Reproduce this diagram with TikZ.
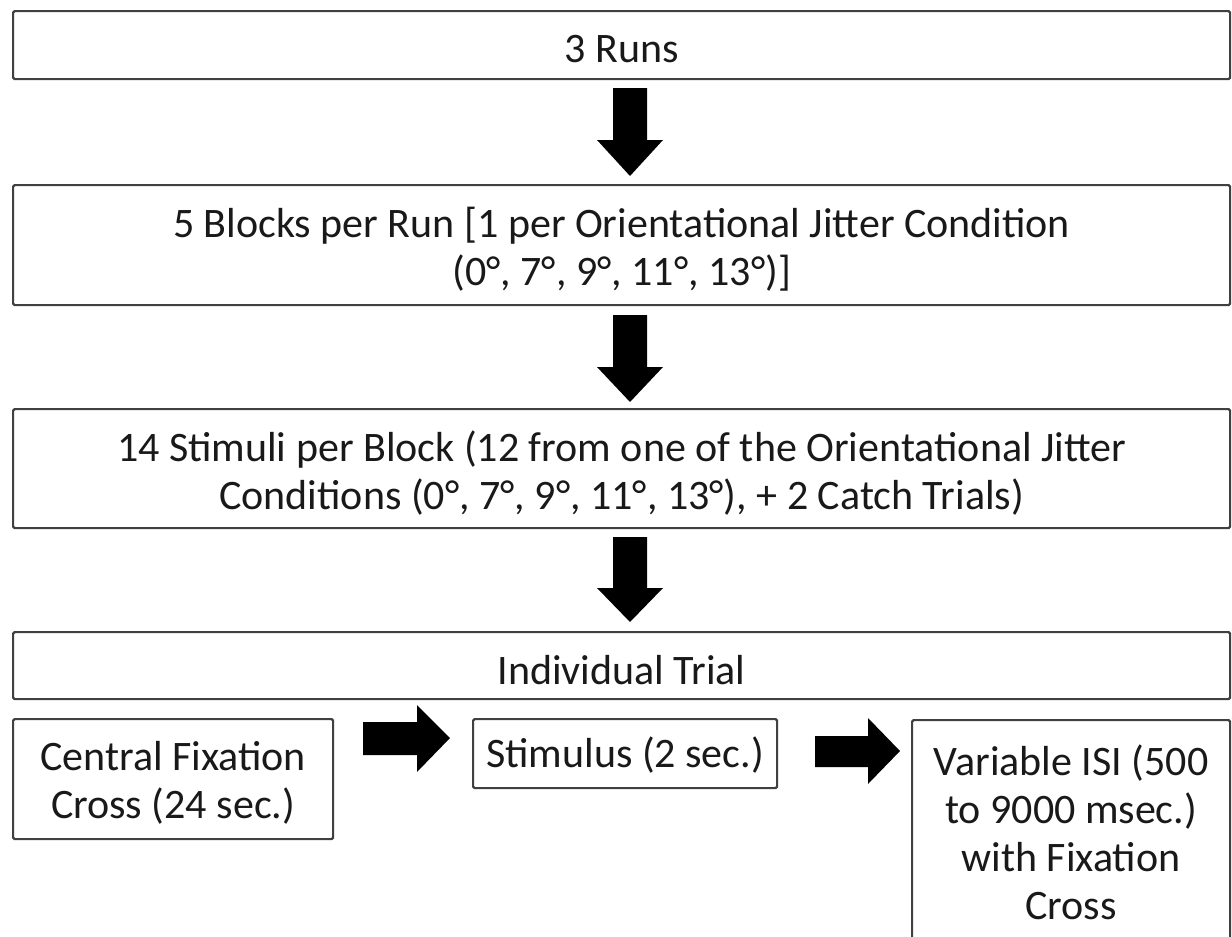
\documentclass[tikz,border=0pt]{standalone}
\usepackage{fontspec}
\setmainfont{Carlito}
\begin{document}
\begin{tikzpicture}[x=1pt,y=-1pt,
  box/.style={draw=black!75, line width=2.2pt, rounded corners=1.5pt, fill=white,
    anchor=north west, inner sep=0pt},
  txt/.style={inner sep=0pt, align=center, text=black!90,
    font=\fontsize{42}{48}\selectfont},
  blockarrow/.style={fill=black, draw=none}]
\useasboundingbox (0,0) rectangle (1232,937);
\clip (0,0) rectangle (1232,937);
\node[box, minimum width=1217pt, minimum height=68pt] (runs) at (12,10) {};
\node[txt] (runsT) at ([yshift=-4pt]runs.center) {3 Runs};
\node[box, minimum width=1217pt, minimum height=120pt] (blocks) at (12,184) {};
\node[txt] (blocksT) at ([yshift=-4pt]blocks.center)
  {5 Blocks per Run [1 per Orientational Jitter Condition\\(0°, 7°, 9°, 11°, 13°)]};
\node[box, minimum width=1217pt, minimum height=119pt] (stimuli) at (12,408) {};
\node[txt] (stimuliT) at ([yshift=-4pt]stimuli.center)
  {14 Stimuli per Block (12 from one of the Orientational Jitter\\Conditions (0°, 7°, 9°, 11°, 13°), + 2 Catch Trials)};
\node[box, minimum width=1217pt, minimum height=67pt] (trial) at (12,631) {};
\node[txt] (trialT) at ([yshift=-4pt]trial.center) {Individual Trial};
\node[box, minimum width=320pt, minimum height=120pt] (fix) at (12,718) {};
\node[txt] (fixT) at ([yshift=-4pt]fix.center) {Central Fixation\\Cross (24 sec.)};
\node[box, minimum width=304pt, minimum height=69pt] (stim) at (472,718) {};
\node[txt] (stimT) at ([yshift=-1pt]stim.center) {Stimulus (2 sec.)};
\node[box, minimum width=318pt, minimum height=226pt] (isi) at (911,719) {};
\node[txt] (isiT) at ([yshift=1pt]isi.center)
  {Variable ISI (500\\to 9000 msec.)\\with Fixation\\Cross};
% vertical block arrows
\foreach \t/\h/\b in {88/140/176, 315/367/402, 537/588/622}{
  \fill[blockarrow] (613,\t) -- (647,\t) -- (647,\h) -- (663,\h) -- (630,\b) -- (597,\h) -- (613,\h) -- cycle;
}
% horizontal block arrows
\fill[blockarrow] (363,722) -- (417,722) -- (417,705) -- (450,738) -- (417,772) -- (417,755) -- (363,755) -- cycle;
\fill[blockarrow] (815,736) -- (868,736) -- (868,718) -- (900,751) -- (868,784) -- (868,767) -- (815,767) -- cycle;
\end{tikzpicture}
\end{document}
